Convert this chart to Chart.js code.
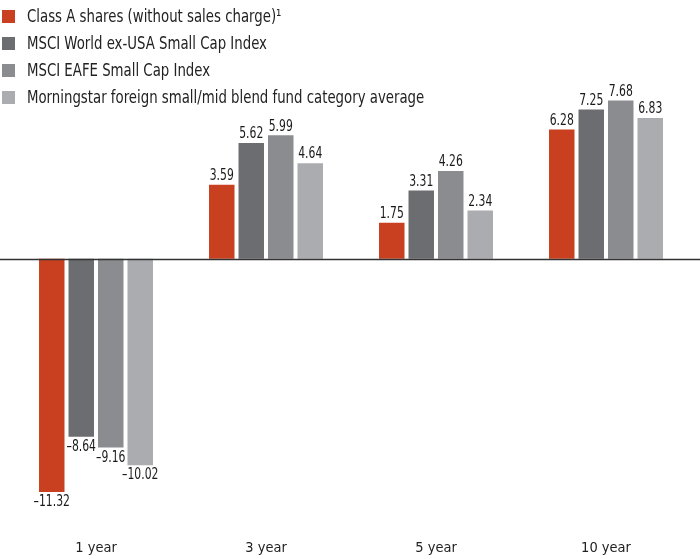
<!DOCTYPE html>
<html>
<head>
<meta charset="utf-8">
<script src="https://cdn.jsdelivr.net/npm/chart.js@4/dist/chart.umd.min.js"></script>
<style>
  html, body { margin: 0; padding: 0; background: #fff; }
  #wrap { position: relative; width: 700px; height: 559px; }
  #legend { position: absolute; left: 0; top: 0; font-family: 'Liberation Sans Narrow', 'DejaVu Sans Condensed', 'Open Sans', sans-serif; font-size: 17px; color: #222; }
  #legend div { position: absolute; left: 0; white-space: nowrap; height: 20px; line-height: 20px; }
  #legend span.sw { position: absolute; left: 2px; top: 4px; width: 13px; height: 13px; }
  #legend span.tx { position: absolute; left: 27px; top: 0; transform: scaleX(0.87); transform-origin: 0 50%; }
</style>
</head>
<body>
<div id="wrap">
  <canvas id="chart" width="700" height="559"></canvas>
  <div id="legend"></div>
</div>
<script>
const categories = ['1 year', '3 year', '5 year', '10 year'];
const seriesNames = [
  'Class A shares (without sales charge)¹',
  'MSCI World ex-USA Small Cap Index',
  'MSCI EAFE Small Cap Index',
  'Morningstar foreign small/mid blend fund category average',
];
const classA = [-11.32, 3.59, 1.75, 6.28];
const msciWorld = [-8.64, 5.62, 3.31, 7.25];
const msciEafe = [-9.16, 5.99, 4.26, 7.68];
const morningstar = [-10.02, 4.64, 2.34, 6.83];
const colors = ['#c8401f', '#6c6d71', '#8b8c90', '#abacb0'];

const FONT = "'Liberation Sans Narrow', 'DejaVu Sans Condensed', 'Open Sans', sans-serif";

function formatValue(v) {
  return v < 0 ? '\u2013' + Math.abs(v).toFixed(2) : v.toFixed(2);
}

// legend drawn as html on top of the chart
const legend = document.getElementById('legend');
seriesNames.forEach((name, i) => {
  const row = document.createElement('div');
  row.style.top = (6 + i * 27) + 'px';
  row.innerHTML = `<span class="sw" style="background:${colors[i]}"></span><span class="tx">${name}</span>`;
  legend.appendChild(row);
});

const zeroLine = {
  id: 'zeroLine',
  afterDatasetsDraw(chart) {
    const { ctx } = chart;
    const y = Math.round(chart.scales.y.getPixelForValue(0)) + 0.5;
    ctx.save();
    ctx.strokeStyle = '#333';
    ctx.lineWidth = 1.3;
    ctx.beginPath();
    ctx.moveTo(0, y);
    ctx.lineTo(chart.width, y);
    ctx.stroke();
    ctx.restore();
  },
};

// value labels, squeezed a bit to look like the condensed face of the original
const valueLabels = {
  id: 'valueLabels',
  afterDatasetsDraw(chart) {
    const { ctx } = chart;
    ctx.save();
    ctx.font = '16px ' + FONT;
    ctx.fillStyle = '#1a1a1a';
    ctx.textAlign = 'center';
    chart.data.datasets.forEach((ds, i) => {
      chart.getDatasetMeta(i).data.forEach((bar, j) => {
        const v = ds.data[j];
        ctx.save();
        if (v >= 0) {
          ctx.textBaseline = 'bottom';
          ctx.translate(bar.x, bar.y - 1);
        } else {
          ctx.textBaseline = 'top';
          ctx.translate(bar.x, bar.y + 2);
        }
        ctx.scale(0.75, 1);
        ctx.fillText(formatValue(v), 0, 0);
        ctx.restore();
      });
    });
    ctx.restore();
  },
};

const datasets = [classA, msciWorld, msciEafe, morningstar].map((data, i) => ({
  label: seriesNames[i],
  data,
  backgroundColor: colors[i],
  borderWidth: 0,
  categoryPercentage: 0.694,
  barPercentage: 0.864,
}));

new Chart(document.getElementById('chart'), {
  type: 'bar',
  data: { labels: categories, datasets },
  options: {
    responsive: false,
    animation: false,
    layout: { padding: { left: 11, right: 9, top: 0, bottom: 2 } },
    plugins: { legend: { display: false }, tooltip: { enabled: false } },
    scales: {
      x: {
        grid: { display: false, drawTicks: false },
        border: { display: false },
        ticks: { color: '#222', font: { family: FONT, size: 14.5 }, padding: 0 },
      },
      y: {
        display: false,
        min: -13.63,
        max: 12.56,
      },
    },
  },
  plugins: [zeroLine, valueLabels],
});
</script>
</body>
</html>
